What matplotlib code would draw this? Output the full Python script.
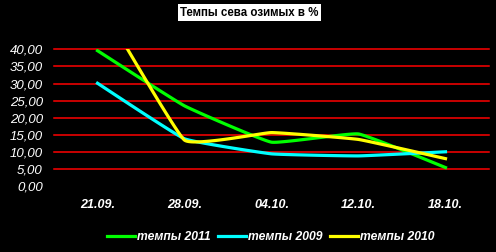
import numpy as np
import matplotlib
matplotlib.use('Agg')
import matplotlib.pyplot as plt

dates = ['21.09.', '28.09.', '04.10.', '12.10.', '18.10.']
tempy_2011 = [39.6, 23.5, 12.9, 15.3, 5.5]
tempy_2009 = [30.1, 13.9, 9.5, 8.9, 10.1]
tempy_2010 = [55.0, 13.5, 15.7, 13.7, 8.1]
series = [('темпы 2011', tempy_2011, '#00ff00'),
          ('темпы 2009', tempy_2009, '#00ffff'),
          ('темпы 2010', tempy_2010, '#ffff00')]


def smooth(y, k=0.05, n=30):
    # mildly smoothed line through the points (Bezier, small tangents)
    p = np.column_stack([np.arange(len(y), dtype=float), np.asarray(y, float)])
    out = [p[0]]
    for i in range(len(p) - 1):
        a = p[i - 1] if i > 0 else p[i]
        b, c = p[i], p[i + 1]
        d = p[i + 2] if i + 2 < len(p) else p[i + 1]
        c1 = b + (c - a) * k
        c2 = c - (d - b) * k
        t = np.linspace(0, 1, n)[1:, None]
        seg = (1 - t)**3 * b + 3 * (1 - t)**2 * t * c1 + 3 * (1 - t) * t**2 * c2 + t**3 * c
        out.extend(seg)
    out = np.array(out)
    return out[:, 0], out[:, 1]


plt.rcParams['font.family'] = ['Liberation Sans', 'DejaVu Sans']
fig = plt.figure(figsize=(4.96, 2.52), dpi=100, facecolor='black')
ax = fig.add_axes([54 / 496, 1 - 186.4 / 252, 435 / 496, 137.1 / 252])
ax.set_facecolor('black')

for v in range(5, 45, 5):
    ax.axhline(v, color='#ff0000', lw=1.1, clip_on=False, zorder=1)

for name, vals, col in series:
    xs, ys = smooth(vals)
    ax.plot(xs, ys, color=col, lw=2.3, label=name, zorder=3)

ax.set_xlim(-0.5, 4.5)
ax.set_ylim(0, 40)
ax.set_yticks(range(0, 45, 5))
ax.set_yticklabels(['%d,00' % v for v in range(0, 45, 5)], color='white',
                   fontsize=9.5, fontstyle='italic')
ax.set_xticks(range(len(dates)))
ax.set_xticklabels(dates, color='white', fontsize=9, fontstyle='italic',
                   fontweight='bold')
ax.tick_params(length=0, axis='y', pad=8)
ax.tick_params(length=0, axis='x', pad=9)
for s in ax.spines.values():
    s.set_visible(False)

fig.text(249.5 / 496, 1 - 12.5 / 252, 'Темпы сева озимых в %', ha='center',
         va='center', fontsize=8.3, fontweight='bold', color='black',
         bbox=dict(facecolor='white', edgecolor='none', pad=1.5))

leg = fig.legend(loc='center', bbox_to_anchor=(271 / 496, 1 - 237 / 252), ncol=3,
                 frameon=False, handlelength=2.3, handletextpad=0.2,
                 columnspacing=0.6, prop=dict(size=8.7, style='italic', weight='bold'))
for t in leg.get_texts():
    t.set_color('white')

fig.savefig('out.png', dpi=100, facecolor='black')
